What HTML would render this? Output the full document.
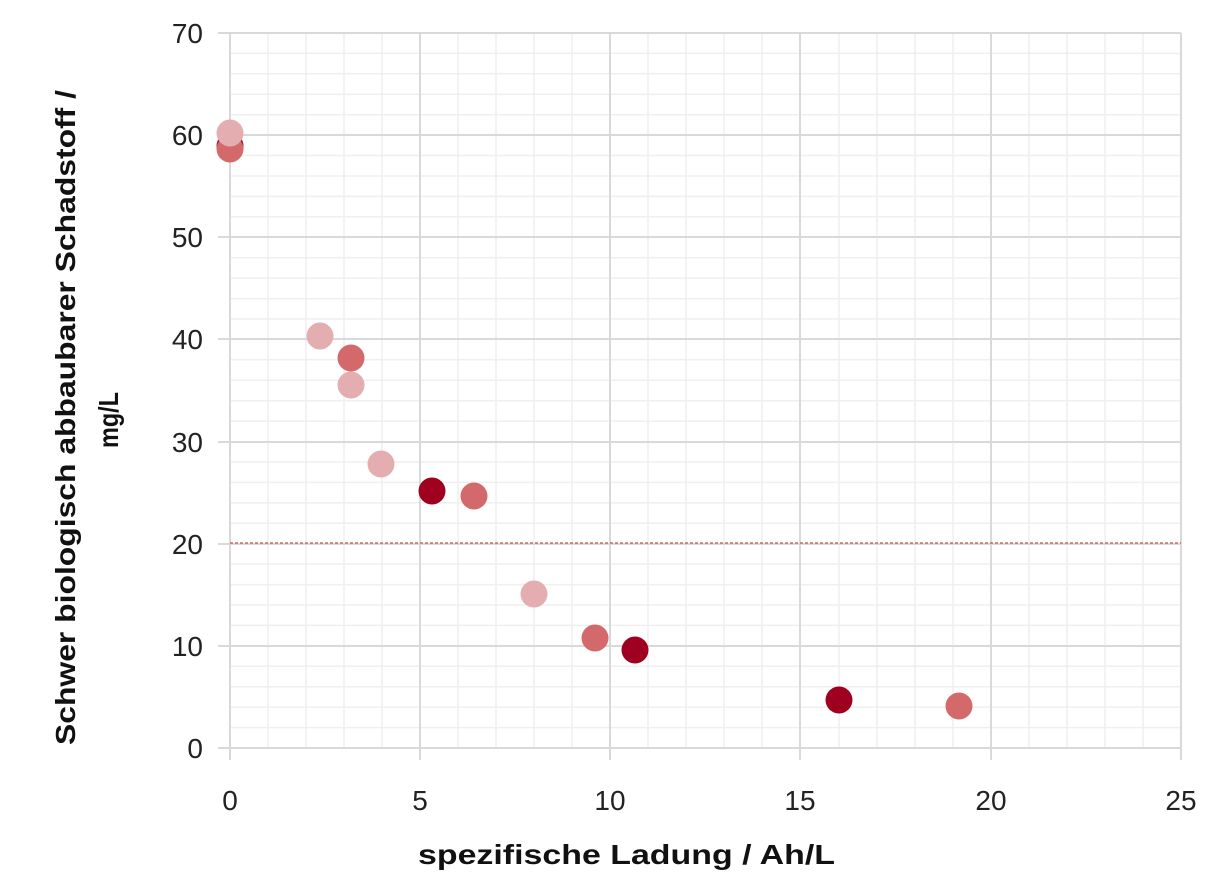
<!DOCTYPE html><html><head><style>body{margin:0;background:#fff}svg{display:block}text{font-family:"Liberation Sans",sans-serif}</style></head><body>
<svg width="1213" height="893" xmlns="http://www.w3.org/2000/svg">
<g stroke="#efefef" stroke-width="1.5">
<line x1="268" y1="33" x2="268" y2="748"/><line x1="306" y1="33" x2="306" y2="748"/><line x1="344" y1="33" x2="344" y2="748"/><line x1="382" y1="33" x2="382" y2="748"/>
<line x1="458" y1="33" x2="458" y2="748"/><line x1="496" y1="33" x2="496" y2="748"/><line x1="534" y1="33" x2="534" y2="748"/><line x1="572" y1="33" x2="572" y2="748"/>
<line x1="648" y1="33" x2="648" y2="748"/><line x1="686" y1="33" x2="686" y2="748"/><line x1="724" y1="33" x2="724" y2="748"/><line x1="762" y1="33" x2="762" y2="748"/>
<line x1="839" y1="33" x2="839" y2="748"/><line x1="877" y1="33" x2="877" y2="748"/><line x1="915" y1="33" x2="915" y2="748"/><line x1="953" y1="33" x2="953" y2="748"/>
<line x1="1029" y1="33" x2="1029" y2="748"/><line x1="1067" y1="33" x2="1067" y2="748"/><line x1="1105" y1="33" x2="1105" y2="748"/><line x1="1143" y1="33" x2="1143" y2="748"/>
<line x1="230" y1="727.6" x2="1181" y2="727.6"/><line x1="230" y1="707.1" x2="1181" y2="707.1"/><line x1="230" y1="686.7" x2="1181" y2="686.7"/><line x1="230" y1="666.3" x2="1181" y2="666.3"/>
<line x1="230" y1="625.4" x2="1181" y2="625.4"/><line x1="230" y1="605" x2="1181" y2="605"/><line x1="230" y1="584.6" x2="1181" y2="584.6"/><line x1="230" y1="564.1" x2="1181" y2="564.1"/>
<line x1="230" y1="523.3" x2="1181" y2="523.3"/><line x1="230" y1="502.9" x2="1181" y2="502.9"/><line x1="230" y1="482.4" x2="1181" y2="482.4"/><line x1="230" y1="462" x2="1181" y2="462"/>
<line x1="230" y1="421.1" x2="1181" y2="421.1"/><line x1="230" y1="400.7" x2="1181" y2="400.7"/><line x1="230" y1="380.3" x2="1181" y2="380.3"/><line x1="230" y1="359.8" x2="1181" y2="359.8"/>
<line x1="230" y1="319" x2="1181" y2="319"/><line x1="230" y1="298.6" x2="1181" y2="298.6"/><line x1="230" y1="278.1" x2="1181" y2="278.1"/><line x1="230" y1="257.7" x2="1181" y2="257.7"/>
<line x1="230" y1="216.8" x2="1181" y2="216.8"/><line x1="230" y1="196.4" x2="1181" y2="196.4"/><line x1="230" y1="176" x2="1181" y2="176"/><line x1="230" y1="155.5" x2="1181" y2="155.5"/>
<line x1="230" y1="114.7" x2="1181" y2="114.7"/><line x1="230" y1="94.3" x2="1181" y2="94.3"/><line x1="230" y1="73.8" x2="1181" y2="73.8"/><line x1="230" y1="53.4" x2="1181" y2="53.4"/>
</g>
<g stroke="#d9d9d9" stroke-width="2">
<line x1="420" y1="33" x2="420" y2="748"/><line x1="610" y1="33" x2="610" y2="748"/><line x1="800" y1="33" x2="800" y2="748"/><line x1="991" y1="33" x2="991" y2="748"/><line x1="1181" y1="33" x2="1181" y2="748"/>
<line x1="218" y1="33" x2="1181" y2="33"/><line x1="218" y1="135" x2="1181" y2="135"/><line x1="218" y1="237" x2="1181" y2="237"/><line x1="218" y1="339" x2="1181" y2="339"/><line x1="218" y1="442" x2="1181" y2="442"/><line x1="218" y1="544" x2="1181" y2="544"/><line x1="218" y1="646" x2="1181" y2="646"/><line x1="218" y1="748" x2="1181" y2="748"/>
<line x1="230" y1="33" x2="230" y2="760"/><line x1="420" y1="748" x2="420" y2="760"/><line x1="610" y1="748" x2="610" y2="760"/><line x1="800" y1="748" x2="800" y2="760"/><line x1="991" y1="748" x2="991" y2="760"/><line x1="1181" y1="748" x2="1181" y2="760"/>
</g>
<line x1="230" y1="543" x2="1181" y2="543" stroke="#c0504d" stroke-width="1.2" stroke-dasharray="3,2"/>
<g fill="#a00020"><circle cx="230" cy="146" r="13.5"/><circle cx="432" cy="491" r="13.5"/><circle cx="635" cy="650" r="13.5"/><circle cx="839" cy="700" r="13.5"/></g>
<g fill="#d4696b"><circle cx="230" cy="149" r="13.5"/><circle cx="351" cy="358" r="13.5"/><circle cx="474" cy="496" r="13.5"/><circle cx="595" cy="638" r="13.5"/><circle cx="959" cy="706" r="13.5"/></g>
<g fill="#e4aeb0"><circle cx="230" cy="133" r="13.5"/><circle cx="320" cy="336" r="13.5"/><circle cx="351" cy="385" r="13.5"/><circle cx="381" cy="464" r="13.5"/><circle cx="534" cy="594" r="13.5"/></g>
<g font-size="28" fill="#222" text-anchor="end">
<text x="203" y="43">70</text><text x="203" y="145">60</text><text x="203" y="247">50</text><text x="203" y="349">40</text><text x="203" y="452">30</text><text x="203" y="554">20</text><text x="203" y="656">10</text><text x="203" y="758">0</text></g>
<g font-size="28" fill="#222" text-anchor="middle">
<text x="230" y="810">0</text><text x="420" y="810">5</text><text x="610" y="810">10</text><text x="800" y="810">15</text><text x="991" y="810">20</text><text x="1181" y="810">25</text></g>
<text x="418" y="864" font-size="28" font-weight="bold" fill="#111" textLength="417" lengthAdjust="spacingAndGlyphs">spezifische Ladung / Ah/L</text>
<g font-size="28" font-weight="bold" fill="#111">
<text transform="translate(75,745) rotate(-90)" textLength="655" lengthAdjust="spacingAndGlyphs">Schwer biologisch abbaubarer Schadstoff /</text>
<text transform="translate(118,448) rotate(-90)" textLength="56" lengthAdjust="spacingAndGlyphs">mg/L</text></g>
</svg></body></html>
